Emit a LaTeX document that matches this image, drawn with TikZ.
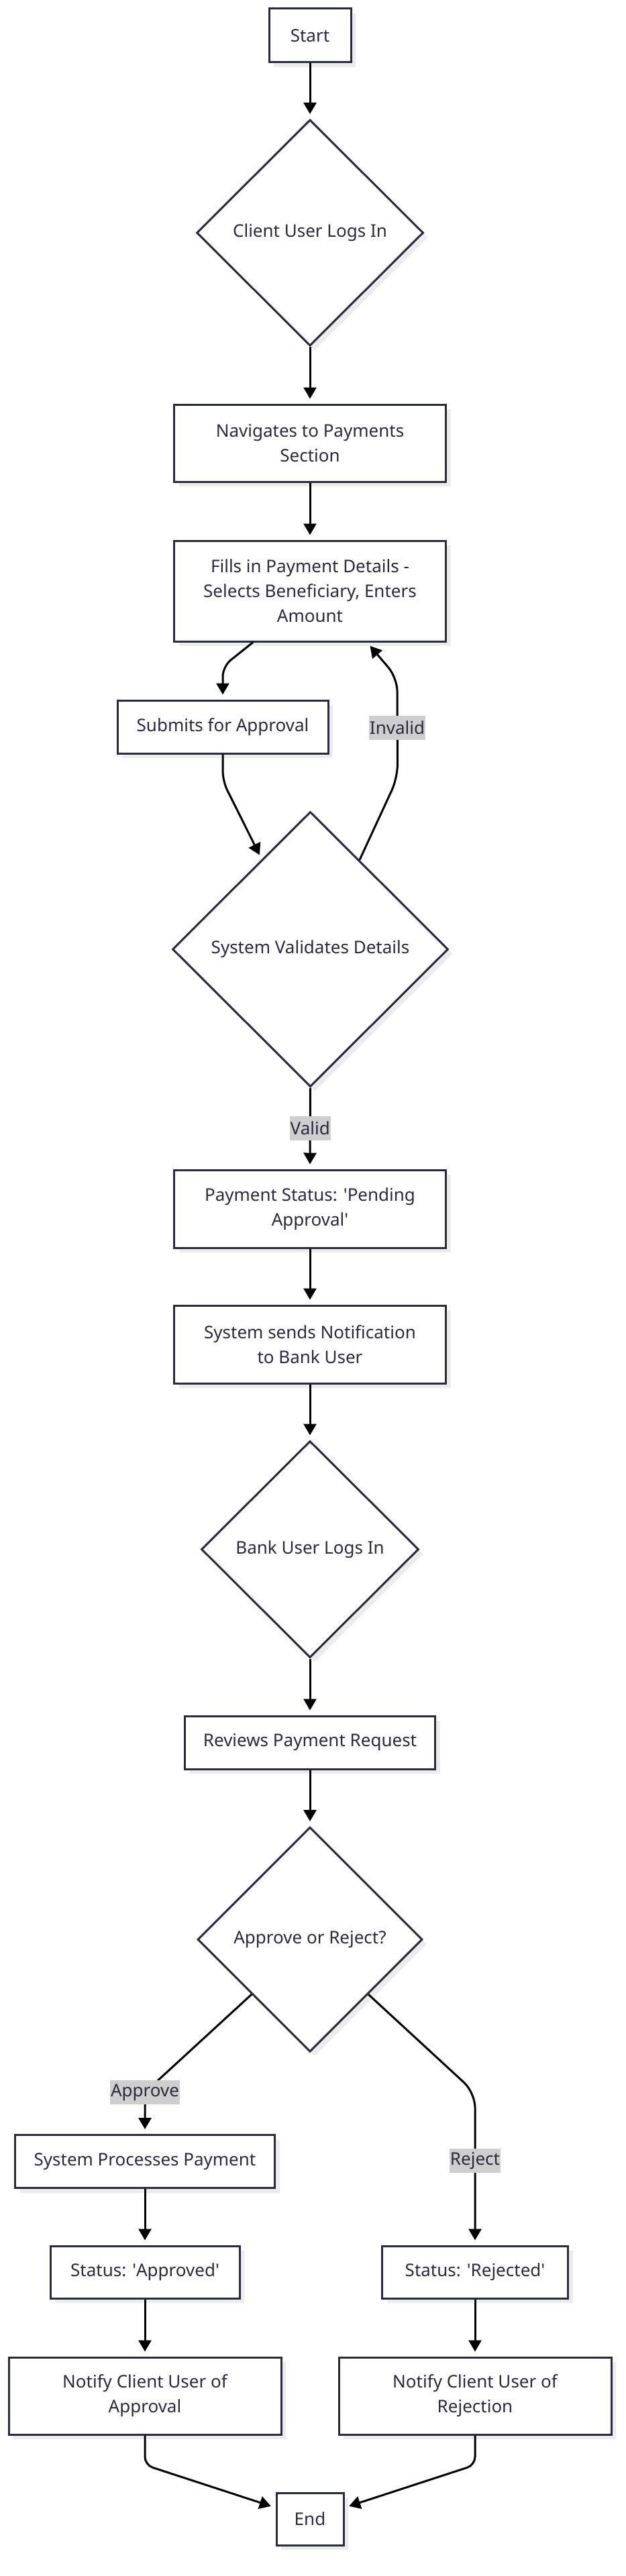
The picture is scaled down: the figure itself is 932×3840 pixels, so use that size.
\documentclass[tikz,border=0pt]{standalone}
\usepackage{fontspec}
\setmainfont{Noto Sans}
\usetikzlibrary{shapes.geometric,arrows.meta,calc,shadows}
\definecolor{ink}{RGB}{42,42,62}
\definecolor{shade}{RGB}{236,236,236}
\definecolor{lblbg}{RGB}{206,206,206}
\newcommand{\sq}{\textquotesingle}
\begin{document}
\begin{tikzpicture}[x=1pt,y=-1pt,
  base/.style={draw=ink, line width=3pt, fill=white, text=ink,
    font=\fontsize{26}{37}\selectfont, align=center, inner sep=0pt,
    general shadow={fill=shade, draw=none, shadow xshift=7pt, shadow yshift=-7pt}},
  box/.style={base, rectangle},
  dec/.style={base, diamond},
  arr/.style={draw=black, line width=3pt, -{Triangle[length=17pt,width=19pt]}, shorten >=7pt},
  lbl/.style={fill=lblbg, text=ink, font=\fontsize{26}{37}\selectfont,
    inner xsep=1pt, inner ysep=0pt, minimum height=36pt}
]
\useasboundingbox (0,0) rectangle (932,3840);

\node[box, minimum width=122pt, minimum height=80pt] (start) at (462,53) {Start};
\node[dec, minimum width=338pt, minimum height=337pt] (login) at (462,347) {Client User Logs In};
\node[box, minimum width=405pt, minimum height=115pt] (nav) at (462,660.5) {Navigates to Payments\\Section};
\node[box, minimum width=405pt, minimum height=150pt] (fills) at (462,881) {Fills in Payment Details -\\Selects Beneficiary, Enters\\Amount};
\node[box, minimum width=314pt, minimum height=79pt] (submit) at (332,1083.5) {Submits for Approval};
\node[dec, minimum width=411pt, minimum height=410pt] (val) at (462.5,1415) {System Validates Details};
\node[box, minimum width=405pt, minimum height=116pt] (pending) at (462,1802) {Payment Status: \sq Pending\\Approval\sq};
\node[box, minimum width=405pt, minimum height=116pt] (sends) at (462,2004) {System sends Notification\\to Bank User};
\node[dec, minimum width=324pt, minimum height=323pt] (bank) at (462,2309.5) {Bank User Logs In};
\node[box, minimum width=373pt, minimum height=79pt] (review) at (462,2597.5) {Reviews Payment Request};
\node[dec, minimum width=335pt, minimum height=335pt] (ar) at (462,2891) {Approve or Reject?};
\node[box, minimum width=387pt, minimum height=79pt] (sysproc) at (216,3222) {System Processes Payment};
\node[box, minimum width=282pt, minimum height=78pt] (statA) at (216,3387) {Status: \sq Approved\sq};
\node[box, minimum width=406pt, minimum height=115pt] (notA) at (216,3571.5) {Notify Client User of\\Approval};
\node[box, minimum width=277pt, minimum height=78pt] (statR) at (708,3387) {Status: \sq Rejected\sq};
\node[box, minimum width=406pt, minimum height=115pt] (notR) at (708,3571.5) {Notify Client User of\\Rejection};
\node[box, minimum width=100pt, minimum height=78pt] (end) at (462,3755) {End};

\draw[arr] (start.south) -- (login.north);
\draw[arr] (login.south) -- (nav.north);
\draw[arr] (nav.south) -- (fills.north);
\draw[arr, rounded corners=15pt] ($(fills.south)+(-85,0)$) -- ($(submit.north)+(0,-49)$) -- (submit.north);
\draw[arr, rounded corners=15pt] (submit.south) -- ($(submit.south)+(0,40)$) -- ($(val.north)!0.35!(val.west)$);
\draw[arr, rounded corners=20pt] ($(val.north)!0.355!(val.east)$) -- ($(val.north)+(130,-49)$) -- ($(fills.south)+(130,53)$) -- ($(fills.south)+(85,0)$);
\node[lbl] (linvalid) at ($(fills.south)+(130,127)$) {Invalid};
\draw[arr] (val.south) -- node[lbl] (lvalid) {Valid} (pending.north);
\draw[arr] (pending.south) -- (sends.north);
\draw[arr] (sends.south) -- (bank.north);
\draw[arr] (bank.south) -- (review.north);
\draw[arr] (review.south) -- (ar.north);
\draw[arr, rounded corners=22pt] ($(ar.west)!0.485!(ar.south)$) -- ($(sysproc.north)+(0,-62)$) -- (sysproc.north);
\node[lbl] (lapprove) at ($(sysproc.north)+(0,-62)$) {Approve};
\draw[arr, rounded corners=22pt] ($(ar.east)!0.485!(ar.south)$) -- ($(statR.north)+(0,-227)$) -- (statR.north);
\node[lbl] (lreject) at ($(statR.north)+(0,-126)$) {Reject};
\draw[arr] (sysproc.south) -- (statA.north);
\draw[arr] (statA.south) -- (notA.north);
\draw[arr] (statR.south) -- (notR.north);
\draw[arr, rounded corners=12pt] (notA.south) -- ($(notA.south)+(0,44)$) -- ($(end.west)+(0,-17)$);
\draw[arr, rounded corners=12pt] (notR.south) -- ($(notR.south)+(0,44)$) -- ($(end.east)+(0,-17)$);
\end{tikzpicture}
\end{document}
